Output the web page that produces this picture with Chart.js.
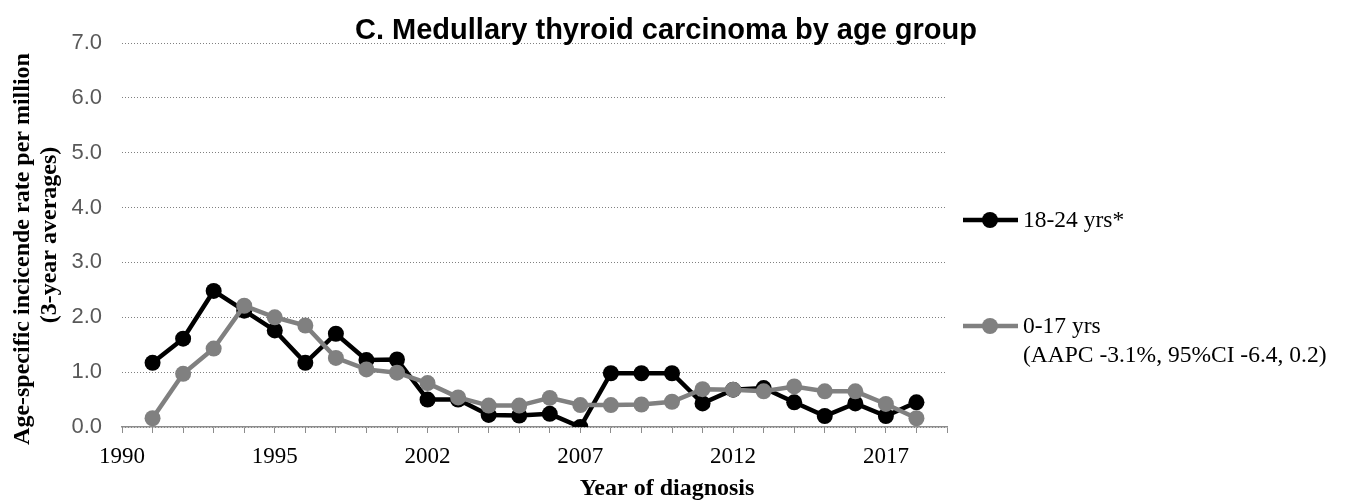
<!DOCTYPE html>
<html>
<head>
<meta charset="utf-8">
<script src="https://cdn.jsdelivr.net/npm/chart.js@4/dist/chart.umd.min.js"></script>
<style>
  body { margin: 0; background: #fff; }
  #wrap { width: 1347px; height: 503px; position: relative; }
</style>
</head>
<body>
<div id="wrap"><canvas id="chart-line"></canvas></div>
<script>
// x categories (Excel-style labels, one every 5 ticks)
var categories = ['1990', '', '', '', '', '1995', '', '', '', '', '2002', '', '', '', '',
  '2007', '', '', '', '', '2012', '', '', '', '', '2017', '', ''];

// 3-year average incidence per million
var age18to24 = [null, 1.17, 1.61, 2.48, 2.12, 1.76, 1.17, 1.70, 1.22, 1.23, 0.50, 0.50, 0.22, 0.21,
  0.24, 0.00, 0.98, 0.98, 0.98, 0.43, 0.68, 0.71, 0.45, 0.20, 0.43, 0.20, 0.45, null];
var age0to17 = [null, 0.16, 0.97, 1.43, 2.21, 2.00, 1.85, 1.26, 1.05, 0.99, 0.80, 0.54, 0.39, 0.39,
  0.53, 0.40, 0.40, 0.41, 0.46, 0.69, 0.68, 0.65, 0.74, 0.65, 0.65, 0.42, 0.16, null];

var legendLines = [
  ["18-24 yrs*"],
  ["0-17 yrs", "(AAPC -3.1%, 95%CI -6.4, 0.2)"]
];

var serif = "'Liberation Serif', 'Times New Roman', serif";
var sans = "'Liberation Sans', Arial, sans-serif";

// titles + legend drawn by hand so they sit where the original puts them
var chrome = {
  id: "chrome",
  afterDraw: function (chart) {
    var c = chart.ctx;
    c.save();
    c.fillStyle = "#000";

    c.font = "bold 29px " + sans;
    c.textAlign = "center";
    c.textBaseline = "alphabetic";
    c.fillText("C. Medullary thyroid carcinoma by age group", 666, 39);

    c.font = "bold 24px " + serif;
    c.fillText("Year of diagnosis", 667, 495);

    c.save();
    c.translate(23, 249);
    c.rotate(-Math.PI / 2);
    c.textBaseline = "middle";
    c.fillText("Age-specific incicende rate per million", 0, 0);
    c.restore();
    c.save();
    c.translate(50, 235);
    c.rotate(-Math.PI / 2);
    c.textBaseline = "middle";
    c.fillText("(3-year averages)", 0, 0);
    c.restore();

    var rows = [220, 326];
    chart.data.datasets.forEach(function (ds, i) {
      var y = rows[i];
      c.strokeStyle = ds.borderColor;
      c.lineWidth = ds.borderWidth;
      c.beginPath();
      c.moveTo(963, y);
      c.lineTo(1018, y);
      c.stroke();
      c.fillStyle = ds.borderColor;
      c.beginPath();
      c.arc(990, y, ds.pointRadius, 0, Math.PI * 2);
      c.fill();
      c.fillStyle = "#000";
      c.font = "23.5px " + serif;
      c.textAlign = "left";
      c.textBaseline = "middle";
      legendLines[i].forEach(function (t, k) {
        c.fillText(t, 1023, y + 1 + k * 29);
      });
    });
    c.restore();
  }
};

var ctx = document.getElementById("chart-line").getContext("2d");
new Chart(ctx, {
  type: "line",
  data: {
    labels: categories,
    datasets: [{
      label: "18-24 yrs*",
      data: age18to24,
      borderColor: "#000000",
      backgroundColor: "#000000",
      borderWidth: 4.5,
      pointRadius: 8,
      pointBorderWidth: 0,
      tension: 0,
      order: 1
    }, {
      label: "0-17 yrs",
      data: age0to17,
      borderColor: "#808080",
      backgroundColor: "#808080",
      borderWidth: 4.5,
      pointRadius: 8,
      pointBorderWidth: 0,
      tension: 0,
      order: 0
    }]
  },
  options: {
    responsive: true,
    maintainAspectRatio: false,
    animation: false,
    layout: { padding: { left: 0, right: 400, top: 43, bottom: 0 } },
    plugins: {
      legend: { display: false },
      title: { display: false },
      tooltip: { enabled: false }
    },
    scales: {
      x: {
        offset: false,
        grid: {
          display: true,
          drawOnChartArea: false,
          drawTicks: true,
          tickLength: 6,
          color: "#8c8c8c"
        },
        border: { display: true, color: "#8c8c8c", width: 1.5 },
        ticks: {
          autoSkip: false,
          maxRotation: 0,
          padding: 10,
          color: "#000",
          font: { size: 23, family: serif }
        },
        afterFit: function (s) { s.height = 76; }
      },
      y: {
        min: 0,
        max: 7,
        grid: {
          drawTicks: false,
          color: "#808080",
          lineWidth: 1
        },
        border: { display: false, dash: [1, 2] },
        ticks: {
          stepSize: 1,
          padding: 20,
          color: "#595959",
          font: { size: 22, family: sans },
          callback: function (v) { return v.toFixed(1); }
        },
        afterFit: function (s) { s.width = 122; }
      }
    }
  },
  plugins: [chrome]
});
</script>
</body>
</html>
